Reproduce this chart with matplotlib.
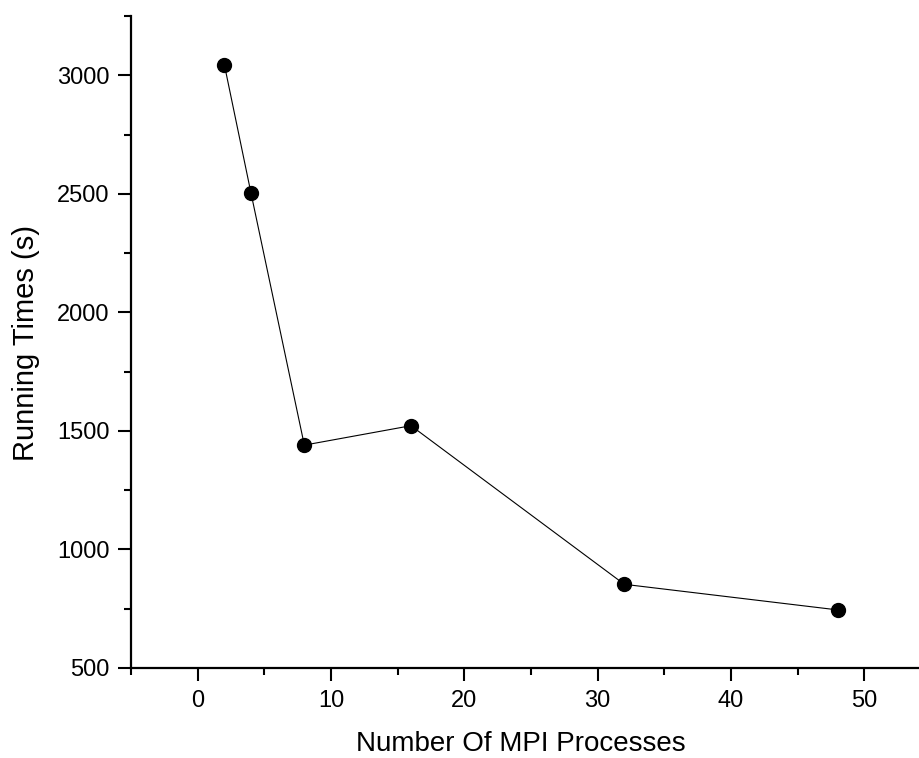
import matplotlib
matplotlib.use('Agg')
import matplotlib.pyplot as plt
from matplotlib.ticker import MultipleLocator

plt.rcParams['font.family'] = ['Liberation Sans', 'DejaVu Sans']

# data
processes = [2, 4, 8, 16, 32, 48]
run_times = [3045, 2503, 1440, 1522, 853, 745]

W, H = 920, 758
fig = plt.figure(figsize=(W/100, H/100), dpi=100)
# axes box in pixels: left 131, right 931 (clipped by image), top 16, bottom 668
L, R, T, B = 131, 931, 16, 668
ax = fig.add_axes([L/W, 1-B/H, (R-L)/W, (B-T)/H])

ax.plot(processes, run_times, color='black', lw=0.8,
        marker='o', ms=10, mfc='black', mec='black', clip_on=False)

ax.set_xlim(-5, 55)
ax.set_ylim(500, 3250)
ax.xaxis.set_major_locator(MultipleLocator(10))
ax.xaxis.set_minor_locator(MultipleLocator(5))
ax.yaxis.set_major_locator(MultipleLocator(500))
ax.yaxis.set_minor_locator(MultipleLocator(250))

for s in ['top', 'right']:
    ax.spines[s].set_visible(False)
for s in ['left', 'bottom']:
    ax.spines[s].set_linewidth(1.6)

ax.tick_params(which='major', direction='out', length=9.5, width=1.5,
               labelsize=17, pad=6)
ax.tick_params(which='minor', direction='out', length=5, width=1.5)

ax.set_xlabel('Number Of MPI Processes', fontsize=20)
ax.set_ylabel('Running Times (s)', fontsize=21)
ax.xaxis.set_label_coords((521-L)/(R-L), -(751-B)/(B-T), transform=ax.transAxes)
ax.xaxis.label.set_va('baseline')
ax.yaxis.set_label_coords(-(131-26)/(R-L), (B-343)/(B-T), transform=ax.transAxes)
ax.yaxis.label.set_va('center')

fig.savefig('out.png', dpi=100)
